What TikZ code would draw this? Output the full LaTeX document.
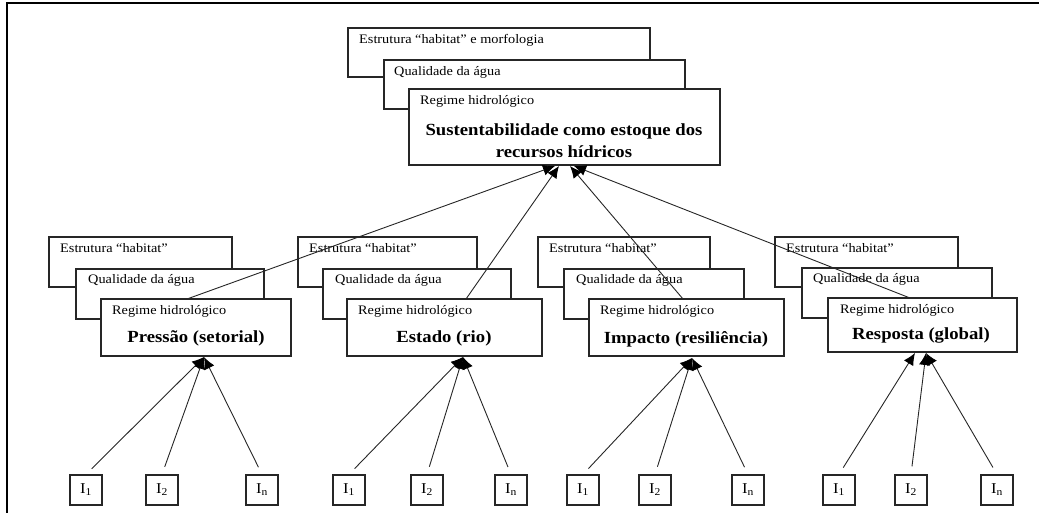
\documentclass[tikz,border=0pt]{standalone}
\usepackage{fontspec}
\setmainfont{Liberation Serif}[FakeStretch=1.1]
\usetikzlibrary{arrows.meta}

\tikzset{
  panel/.style={draw=black!85, line width=1.3pt, fill=white, inner sep=0pt, outer sep=0pt, anchor=north west},
  tag/.style={font=\fontsize{13}{15}\selectfont, anchor=west, inner sep=0pt},
  title/.style={font=\bfseries\fontsize{17}{22}\selectfont, inner sep=0pt, align=center},
  ibox/.style={draw=black!85, line width=1.2pt, fill=white, minimum width=32pt, minimum height=30pt, inner sep=0pt, font=\fontsize{15}{17}\selectfont},
  link/.style={draw=black!85, line width=0.9pt, -{Latex[length=12pt,width=11pt,black]}},
  rim/.style={line width=1.6pt, black}
}

\begin{document}
\begin{tikzpicture}[x=1pt, y=-1pt]
\useasboundingbox (0,0) rectangle (1039,513);

% outer frame (top and left edges)
\coordinate (fl) at (7,513);
\coordinate (fc) at (7,3);
\coordinate (fr) at (1039,3);
\draw[rim] (fl) -- (fc) -- (fr);

% ---- top stack ----
\node[panel, minimum width=302pt, minimum height=49pt] (ta) at (348,28) {};
\node[tag] (tal) at (359,40) {Estrutura “habitat” e morfologia};
\node[panel, minimum width=301pt, minimum height=49pt] (tb) at (384,60) {};
\node[tag] (tbl) at (394,72) {Qualidade da água};
\node[panel, minimum width=311pt, minimum height=76pt] (tc) at (409,89) {};
\node[tag] (tcl) at (420,101) {Regime hidrológico};
\node[title] (tct) at (564,141) {Sustentabilidade como estoque dos\\recursos hídricos};

% ---- four lower stacks: back, middle, front ----
% stack 1
\node[panel, minimum width=183pt, minimum height=50pt] (a1) at (49,237) {};
\node[tag] (a1l) at (60,248) {Estrutura “habitat”};
\node[panel, minimum width=188pt, minimum height=50pt] (b1) at (76,269) {};
\node[tag] (b1l) at (88,280) {Qualidade da água};
\node[panel, minimum width=190pt, minimum height=57pt] (c1) at (101,299) {};
\node[tag] (c1l) at (112,311) {Regime hidrológico};
\node[title] (c1t) at (196,338) {Pressão (setorial)};

% stack 2
\node[panel, minimum width=179pt, minimum height=50pt] (a2) at (298,237) {};
\node[tag] (a2l) at (309,248) {Estrutura “habitat”};
\node[panel, minimum width=188pt, minimum height=50pt] (b2) at (323,269) {};
\node[tag] (b2l) at (335,280) {Qualidade da água};
\node[panel, minimum width=195pt, minimum height=57pt] (c2) at (347,299) {};
\node[tag] (c2l) at (358,311) {Regime hidrológico};
\node[title] (c2t) at (444,338) {Estado (rio)};

% stack 3
\node[panel, minimum width=172pt, minimum height=50pt] (a3) at (538,237) {};
\node[tag] (a3l) at (549,248) {Estrutura “habitat”};
\node[panel, minimum width=180pt, minimum height=50pt] (b3) at (564,269) {};
\node[tag] (b3l) at (576,280) {Qualidade da água};
\node[panel, minimum width=195pt, minimum height=57pt] (c3) at (589,299) {};
\node[tag] (c3l) at (600,311) {Regime hidrológico};
\node[title] (c3t) at (686,339) {Impacto (resiliência)};

% stack 4
\node[panel, minimum width=183pt, minimum height=50pt] (a4) at (775,237) {};
\node[tag] (a4l) at (786,248) {Estrutura “habitat”};
\node[panel, minimum width=190pt, minimum height=50pt] (b4) at (802,268) {};
\node[tag] (b4l) at (813,279) {Qualidade da água};
\node[panel, minimum width=189pt, minimum height=54pt] (c4) at (828,298) {};
\node[tag] (c4l) at (840,310) {Regime hidrológico};
\node[title] (c4t) at (921,335) {Resposta (global)};

% ---- links from the stacks up to the top box ----
\coordinate (s1) at (187,299);
\coordinate (s2) at (466,299);
\coordinate (s3) at (683,299);
\coordinate (s4) at (910,298);
\coordinate (u1) at (555,166);
\coordinate (u2) at (559,166);
\coordinate (u3) at (570,166);
\coordinate (u4) at (574,166);
\draw[link] (s1) -- (u1);
\draw[link] (s2) -- (u2);
\draw[link] (s3) -- (u3);
\draw[link] (s4) -- (u4);

% ---- indicator boxes ----
\foreach \n/\x/\s in {p1/86/1, p2/162/2, pn/262/n,
                      q1/349/1, q2/427/2, qn/511/n,
                      r1/583/1, r2/655/2, rn/748/n,
                      w1/839/1, w2/911/2, wn/997/n}{
  \node[ibox] (\n) at (\x,490) {I\textsubscript{\s}};
}

% ---- indicator links into each stack ----
\coordinate (v1) at (204,357);
\coordinate (v2) at (463,357);
\coordinate (v3) at (692,358);
\coordinate (v4a) at (915,353);
\coordinate (v4b) at (926,353);
\foreach \n in {p1,p2,pn}{\draw[link, shorten <=8pt] (\n.north) -- (v1);}
\foreach \n in {q1,q2,qn}{\draw[link, shorten <=8pt] (\n.north) -- (v2);}
\foreach \n in {r1,r2,rn}{\draw[link, shorten <=8pt] (\n.north) -- (v3);}
\draw[link, shorten <=8pt] (w1.north) -- (v4a);
\draw[link, shorten <=8pt] (w2.north) -- (v4b);
\draw[link, shorten <=8pt] (wn.north) -- (v4b);

\end{tikzpicture}
\end{document}
